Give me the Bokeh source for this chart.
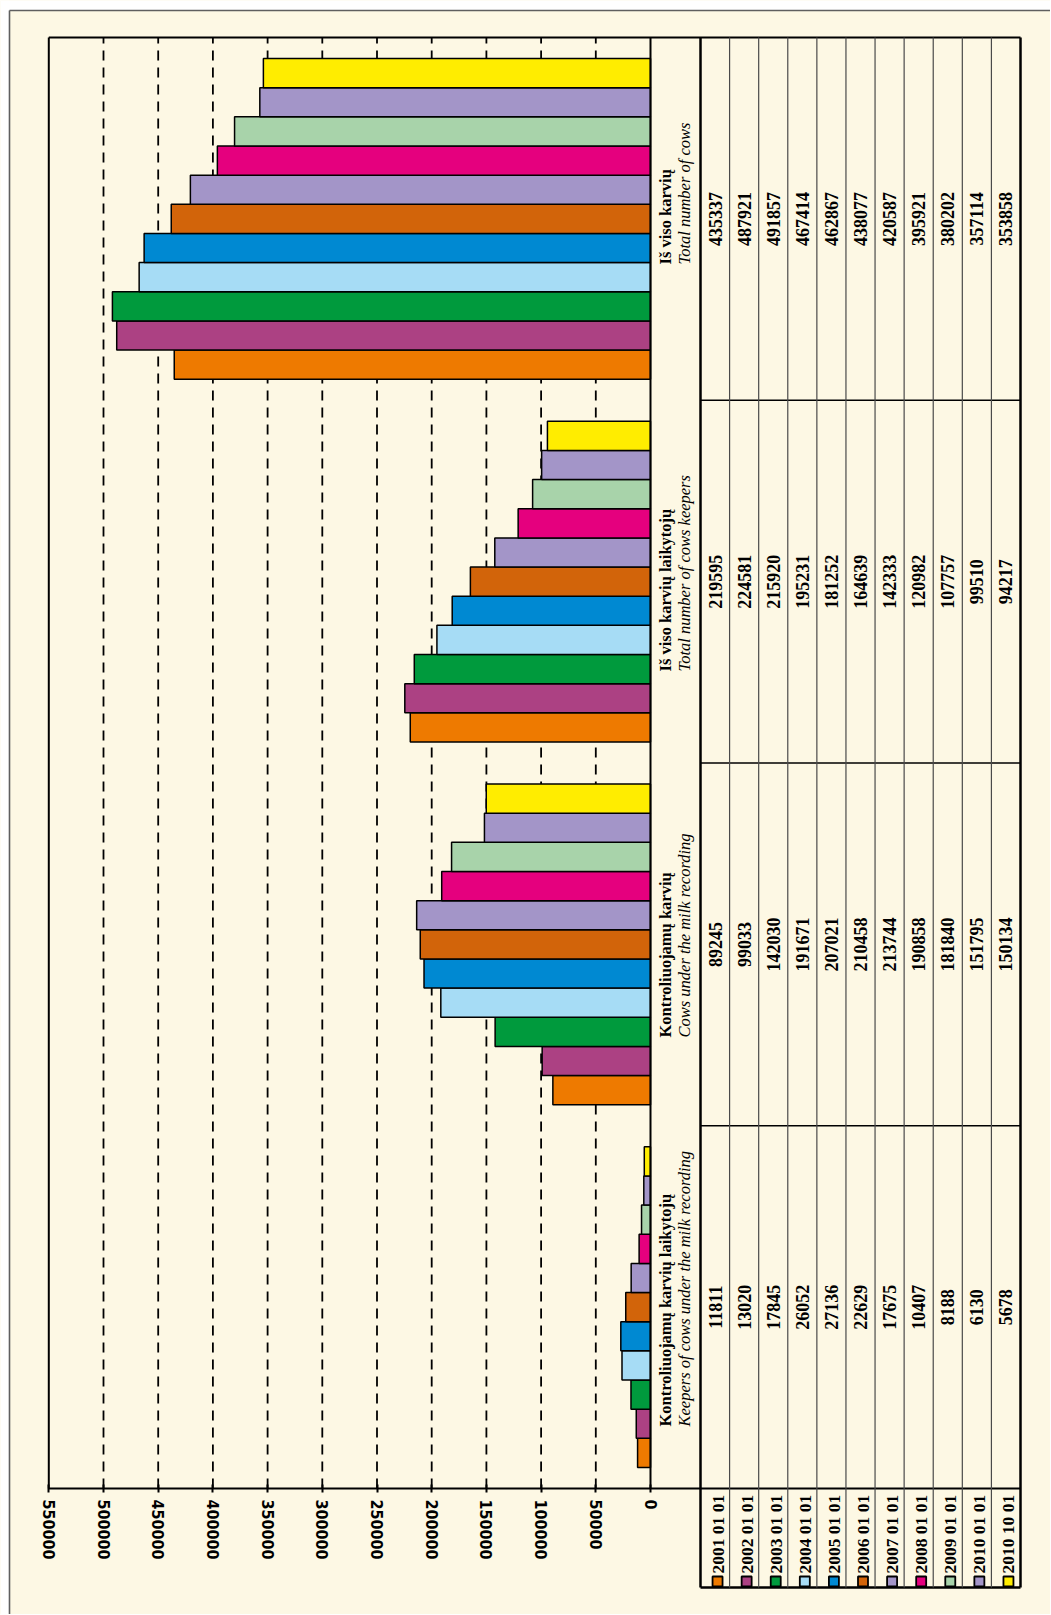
import math
from bokeh.plotting import figure
from bokeh.models import Range1d, FixedTicker, BasicTickFormatter, ColumnDataSource
from bokeh.core.properties import value
from bokeh.embed import file_html
from bokeh.resources import INLINE

# ---------------- data ----------------
series = ["2001 01 01", "2002 01 01", "2003 01 01", "2004 01 01", "2005 01 01",
          "2006 01 01", "2007 01 01", "2008 01 01", "2009 01 01", "2010 01 01",
          "2010 10 01"]
colors = ["#EE7A00", "#AC4183", "#009A3D", "#A6DCF5", "#0089D2", "#D2640A",
          "#A395C8", "#E5007E", "#A8D3AA", "#A395C8", "#FFED00"]

groups_lt = ["Kontroliuojamų karvių laikytojų", "Kontroliuojamų karvių",
             "Iš viso karvių laikytojų", "Iš viso karvių"]
groups_en = ["Keepers of cows under the milk recording", "Cows under the milk recording",
             "Total number of cows keepers", "Total number of cows"]

keepers_recorded = [11811, 13020, 17845, 26052, 27136, 22629, 17675, 10407, 8188, 6130, 5678]
cows_recorded = [89245, 99033, 142030, 191671, 207021, 210458, 213744, 190858, 181840, 151795, 150134]
keepers_total = [219595, 224581, 215920, 195231, 181252, 164639, 142333, 120982, 107757, 99510, 94217]
cows_total = [435337, 487921, 491857, 467414, 462867, 438077, 420587, 395921, 380202, 357114, 353858]
group_values = [keepers_recorded, cows_recorded, keepers_total, cows_total]

tick_values = [0, 50000, 100000, 150000, 200000, 250000, 300000, 350000,
               400000, 450000, 500000, 550000]

# ---------------- layout (page pixels; canvas starts at page 0,0) ----------------
CREAM = "#FDF8E4"
W, H = 1050, 1614
FL, FR, FT, FB = 0, W, 0, H            # frame = whole canvas

ZERO_PX, MAX_PX = 650.0, 48.3          # value 0 and value 550000
PLOT_TOP, PLOT_BOTTOM = 37.0, 1488.0
TBL_L, TBL_R, TBL_B = 700.0, 1020.0, 1587.0
BORDER_X, BORDER_Y = 9.0, 10.0

VMAX = tick_values[-1]
k = (ZERO_PX - MAX_PX) / VMAX
NG = len(group_values)
RU = (PLOT_BOTTOM - PLOT_TOP) / NG
NS = len(series)
cw = (TBL_R - TBL_L) / NS


def vx(px):   # page px -> value axis
    return (ZERO_PX - px) / k


def ty(py):   # page py -> y units
    return (PLOT_BOTTOM - py) / RU


def tx(px):   # page px -> table column units
    return (px - TBL_L) / cw


p = figure(width=W, height=H, output_backend="svg", toolbar_location=None,
           x_range=Range1d(vx(FL), vx(FR)), y_range=Range1d(ty(FB), ty(FT)),
           min_border=0, title=None)
p.extra_x_ranges = {"tbl": Range1d(tx(FL), tx(FR))}
p.background_fill_color = CREAM
p.border_fill_color = CREAM
p.outline_line_color = None
p.grid.visible = False
p.yaxis.visible = False

# page surround and outer frame line
p.quad(left=[vx(FL), vx(FL)], right=[vx(BORDER_X), vx(FR)],
       bottom=[ty(FB), ty(BORDER_Y)], top=[ty(FT), ty(FT)],
       fill_color="white", line_color=None)
p.segment(x0=[vx(BORDER_X), vx(BORDER_X)], x1=[vx(BORDER_X), vx(FR)],
          y0=[ty(FB), ty(BORDER_Y)], y1=[ty(BORDER_Y), ty(BORDER_Y)],
          line_color="#5f5f5f", line_width=1.6)

# dashed gridlines
gl = [t for t in tick_values if 0 < t < VMAX]
p.segment(x0=gl, x1=gl, y0=[0] * len(gl), y1=[NG] * len(gl),
          line_color="black", line_width=1.8, line_dash="10 7")

# bars
bw = 29.15 / RU
ys, rights, cols = [], [], []
for g, vals in enumerate(group_values):
    for i, v in enumerate(vals):
        ys.append(g + 0.5 + (i - (NS - 1) / 2) * bw)
        rights.append(v)
        cols.append(colors[i])
src = ColumnDataSource(dict(y=ys, right=rights, left=[0] * len(ys), color=cols))
p.hbar(y="y", left="left", right="right", height=bw, source=src,
       fill_color="color", line_color="black", line_width=1.5)

# frame lines
xr_tab = vx(TBL_R)
p.segment(x0=[VMAX, VMAX, 0, 0], x1=[VMAX, xr_tab, 0, xr_tab],
          y0=[0, NG, 0, 0], y1=[NG, NG, NG, 0],
          line_color="black", line_width=2)
# table lines (in table units)
p.segment(x0=[0, NS, 0], x1=[0, NS, NS], y0=[ty(TBL_B), ty(TBL_B), ty(TBL_B)],
          y1=[NG, NG, ty(TBL_B)], line_color="black", line_width=2.5,
          x_range_name="tbl")
rows = list(range(1, NG))
p.segment(x0=[0] * len(rows), x1=[NS] * len(rows), y0=rows, y1=rows,
          line_color="black", line_width=1.5, x_range_name="tbl")
cl = list(range(1, NS))
p.segment(x0=cl, x1=cl, y0=[ty(TBL_B)] * len(cl), y1=[NG] * len(cl),
          line_color="#4a4a4a", line_width=1.2, x_range_name="tbl")

SERIF = value("Liberation Serif")

# table values
tx_, ty_, tt = [], [], []
for g, vals in enumerate(group_values):
    for i, v in enumerate(vals):
        tx_.append(i + 0.5)
        ty_.append(g + 0.5)
        tt.append(str(v))
p.text(x=tx_, y=ty_, text=tt, angle=math.pi / 2, text_align="center",
       text_baseline="middle", text_font=SERIF, text_font_style="bold",
       text_font_size="18px", text_color="black", x_range_name="tbl")

# group labels
label_start_px = [1426, 1037, 671, 264]
p.text(x=[tx(665)] * NG, y=[ty(v) for v in label_start_px], text=groups_lt,
       angle=math.pi / 2, text_align="left", text_baseline="middle",
       text_font=SERIF, text_font_style="bold", text_font_size="16.5px",
       text_color="black", x_range_name="tbl")
p.text(x=[tx(684)] * NG, y=[ty(v) for v in label_start_px], text=groups_en,
       angle=math.pi / 2, text_align="left", text_baseline="middle",
       text_font=SERIF, text_font_style="italic", text_font_size="16.5px",
       text_color="black", x_range_name="tbl")

# legend row
lx = [i + 0.5 + 2.5 / cw for i in range(NS)]
p.scatter(x=lx, y=[ty(1581)] * NS, marker="square", size=10,
          fill_color=colors, line_color="black", line_width=1.8,
          x_range_name="tbl")
p.text(x=lx, y=[ty(1573)] * NS, text=series, angle=math.pi / 2,
       text_align="left", text_baseline="middle", text_font=SERIF,
       text_font_style="bold", text_font_size="17.5px", text_color="black",
       x_range_name="tbl")

# value axis (fixed at bottom of bar area)
ax = p.xaxis[0]
ax.fixed_location = 0
ax.bounds = (0, VMAX)
ax.ticker = FixedTicker(ticks=tick_values)
ax.formatter = BasicTickFormatter(use_scientific=False)
ax.minor_tick_line_color = None
ax.major_tick_in = 4
ax.major_tick_out = 4
ax.major_tick_line_width = 2
ax.axis_line_width = 2
ax.major_label_orientation = "vertical"
ax.major_label_standoff = 7
ax.major_label_text_font = "DejaVu Sans Condensed"
ax.major_label_text_font_style = "bold"
ax.major_label_text_font_size = "16px"
ax.major_label_text_color = "black"

open("out.html", "w").write(file_html(p, INLINE))
